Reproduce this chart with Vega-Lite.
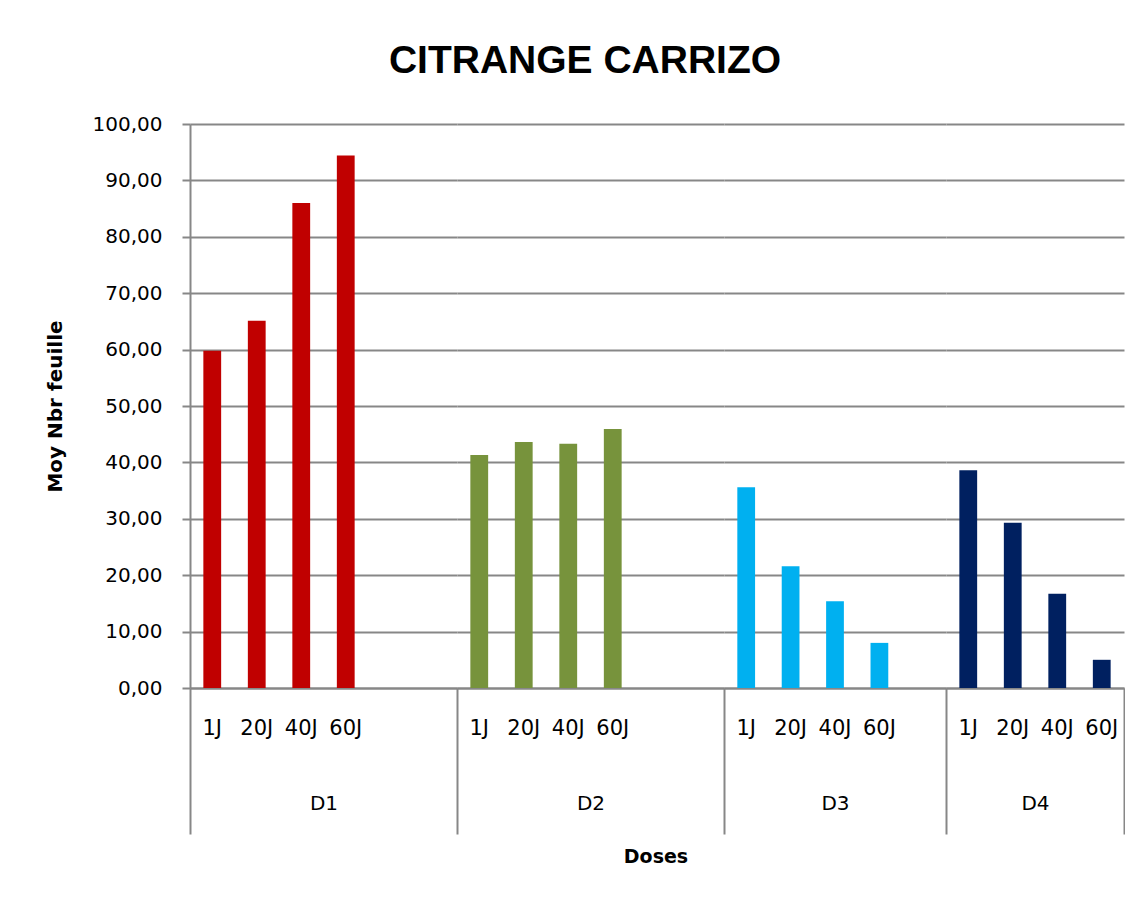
{
  "$schema": "https://vega.github.io/schema/vega-lite/v6.json",
  "padding": {"left": 45, "top": 42, "right": 0, "bottom": 0},
  "background": "white",
  "title": {"text": "CITRANGE CARRIZO", "font": "Liberation Sans", "fontSize": 39, "fontWeight": "bold", "color": "#000000", "anchor": "middle", "offset": 33},
  "data": {"values": [
    {"dose": "D1", "jour": "1J", "valeur": 59.8},
    {"dose": "D1", "jour": "20J", "valeur": 65.1},
    {"dose": "D1", "jour": "40J", "valeur": 86.0},
    {"dose": "D1", "jour": "60J", "valeur": 94.4},
    {"dose": "D2", "jour": "1J", "valeur": 41.3},
    {"dose": "D2", "jour": "20J", "valeur": 43.6},
    {"dose": "D2", "jour": "40J", "valeur": 43.3},
    {"dose": "D2", "jour": "60J", "valeur": 45.9},
    {"dose": "D3", "jour": "1J", "valeur": 35.6},
    {"dose": "D3", "jour": "20J", "valeur": 21.6},
    {"dose": "D3", "jour": "40J", "valeur": 15.4},
    {"dose": "D3", "jour": "60J", "valeur": 8.0},
    {"dose": "D4", "jour": "1J", "valeur": 38.6},
    {"dose": "D4", "jour": "20J", "valeur": 29.3},
    {"dose": "D4", "jour": "40J", "valeur": 16.7},
    {"dose": "D4", "jour": "60J", "valeur": 5.0}
  ]},
  "vconcat": [
    {
      "title": {"text": "Doses", "orient": "bottom", "font": "DejaVu Sans", "fontSize": 19, "fontWeight": "bold", "color": "#000000", "anchor": "middle", "offset": 13, "dx": 71},
      "spacing": 0,
      "bounds": "flush",
      "hconcat": [
        {
          "width": 267, "height": 564,
          "transform": [{"filter": "datum.dose === 'D1'"}],
          "layer": [
            {
              "mark": {"type": "bar", "width": {"band": 0.4}},
              "encoding": {
                "x": {"field": "jour", "type": "nominal", "sort": null,
                  "scale": {"domain": ["1J", "20J", "40J", "60J", " ", "  "], "paddingInner": 0, "paddingOuter": 0},
                  "axis": {"title": "D1", "orient": "bottom", "ticks": false, "tickSize": 0, "labelAngle": 0, "labelPadding": 29, "titlePadding": 55, "grid": false}},
                "y": {"field": "valeur", "type": "quantitative",
                  "scale": {"domain": [0, 100], "nice": false},
                  "axis": {"values": [0, 10, 20, 30, 40, 50, 60, 70, 80, 90, 100], "labelExpr": "replace(format(datum.value, '.2f'), '.', ',')", "title": "Moy Nbr feuille", "titleFont": "DejaVu Sans", "titleFontSize": 20, "titleFontWeight": "bold", "titlePadding": 27, "labelFontSize": 20, "labelPadding": 20, "ticks": true, "tickSize": 8, "domain": true, "grid": true}},
                "color": {"field": "dose", "type": "nominal", "scale": {"domain": ["D1", "D2", "D3", "D4"], "range": ["#C00000", "#77933C", "#00B0F0", "#002060"]}, "legend": null}
              }
            },
            {
              "mark": {"type": "bar", "opacity": 0},
              "encoding": {
                "x": {"field": "jour", "type": "nominal", "sort": null,
                  "axis": {"values": ["1J"], "bandPosition": 0, "orient": "bottom", "labels": false, "domain": false, "ticks": true, "tickSize": 146, "title": null, "grid": false}},
                "y": {"field": "valeur", "type": "quantitative"}
              }
            }
          ],
          "resolve": {"axis": {"x": "independent"}}
        },
        {
          "width": 267, "height": 564,
          "transform": [{"filter": "datum.dose === 'D2'"}],
          "layer": [
            {
              "mark": {"type": "bar", "width": {"band": 0.4}},
              "encoding": {
                "x": {"field": "jour", "type": "nominal", "sort": null,
                  "scale": {"domain": ["1J", "20J", "40J", "60J", " ", "  "], "paddingInner": 0, "paddingOuter": 0},
                  "axis": {"title": "D2", "orient": "bottom", "ticks": false, "tickSize": 0, "labelAngle": 0, "labelPadding": 29, "titlePadding": 55, "grid": false}},
                "y": {"field": "valeur", "type": "quantitative",
                  "scale": {"domain": [0, 100], "nice": false},
                  "axis": {"values": [0, 10, 20, 30, 40, 50, 60, 70, 80, 90, 100], "labels": false, "ticks": false, "domain": false, "title": null, "grid": true}},
                "color": {"field": "dose", "type": "nominal", "scale": {"domain": ["D1", "D2", "D3", "D4"], "range": ["#C00000", "#77933C", "#00B0F0", "#002060"]}, "legend": null}
              }
            },
            {
              "mark": {"type": "bar", "opacity": 0},
              "encoding": {
                "x": {"field": "jour", "type": "nominal", "sort": null,
                  "axis": {"values": ["1J"], "bandPosition": 0, "orient": "bottom", "labels": false, "domain": false, "ticks": true, "tickSize": 146, "title": null, "grid": false}},
                "y": {"field": "valeur", "type": "quantitative"}
              }
            }
          ],
          "resolve": {"axis": {"x": "independent"}}
        },
        {
          "width": 222, "height": 564,
          "transform": [{"filter": "datum.dose === 'D3'"}],
          "layer": [
            {
              "mark": {"type": "bar", "width": {"band": 0.4}},
              "encoding": {
                "x": {"field": "jour", "type": "nominal", "sort": null,
                  "scale": {"domain": ["1J", "20J", "40J", "60J", " "], "paddingInner": 0, "paddingOuter": 0},
                  "axis": {"title": "D3", "orient": "bottom", "ticks": false, "tickSize": 0, "labelAngle": 0, "labelPadding": 29, "titlePadding": 55, "grid": false}},
                "y": {"field": "valeur", "type": "quantitative",
                  "scale": {"domain": [0, 100], "nice": false},
                  "axis": {"values": [0, 10, 20, 30, 40, 50, 60, 70, 80, 90, 100], "labels": false, "ticks": false, "domain": false, "title": null, "grid": true}},
                "color": {"field": "dose", "type": "nominal", "scale": {"domain": ["D1", "D2", "D3", "D4"], "range": ["#C00000", "#77933C", "#00B0F0", "#002060"]}, "legend": null}
              }
            },
            {
              "mark": {"type": "bar", "opacity": 0},
              "encoding": {
                "x": {"field": "jour", "type": "nominal", "sort": null,
                  "axis": {"values": ["1J"], "bandPosition": 0, "orient": "bottom", "labels": false, "domain": false, "ticks": true, "tickSize": 146, "title": null, "grid": false}},
                "y": {"field": "valeur", "type": "quantitative"}
              }
            }
          ],
          "resolve": {"axis": {"x": "independent"}}
        },
        {
          "width": 178, "height": 564,
          "transform": [{"filter": "datum.dose === 'D4'"}],
          "layer": [
            {
              "mark": {"type": "bar", "width": {"band": 0.4}},
              "encoding": {
                "x": {"field": "jour", "type": "nominal", "sort": null,
                  "scale": {"domain": ["1J", "20J", "40J", "60J"], "paddingInner": 0, "paddingOuter": 0},
                  "axis": {"title": "D4", "orient": "bottom", "ticks": false, "tickSize": 0, "labelAngle": 0, "labelPadding": 29, "titlePadding": 55, "grid": false}},
                "y": {"field": "valeur", "type": "quantitative",
                  "scale": {"domain": [0, 100], "nice": false},
                  "axis": {"values": [0, 10, 20, 30, 40, 50, 60, 70, 80, 90, 100], "labels": false, "ticks": false, "domain": false, "title": null, "grid": true}},
                "color": {"field": "dose", "type": "nominal", "scale": {"domain": ["D1", "D2", "D3", "D4"], "range": ["#C00000", "#77933C", "#00B0F0", "#002060"]}, "legend": null}
              }
            },
            {
              "mark": {"type": "bar", "opacity": 0},
              "encoding": {
                "x": {"field": "jour", "type": "nominal", "sort": null,
                  "axis": {"values": ["1J"], "bandPosition": 0, "orient": "bottom", "labels": false, "domain": false, "ticks": true, "tickSize": 146, "title": null, "grid": false}},
                "y": {"field": "valeur", "type": "quantitative"}
              }
            },
            {
              "mark": {"type": "bar", "opacity": 0},
              "encoding": {
                "x": {"field": "jour", "type": "nominal", "sort": null,
                  "axis": {"values": ["60J"], "bandPosition": 1, "orient": "bottom", "labels": false, "domain": false, "ticks": true, "tickSize": 146, "title": null, "grid": false}},
                "y": {"field": "valeur", "type": "quantitative"}
              }
            }
          ],
          "resolve": {"axis": {"x": "independent"}}
        }
      ]
    }
  ],
  "config": {
    "view": {"stroke": null},
    "axis": {
      "labelFont": "DejaVu Sans", "labelFontSize": 21, "labelColor": "#000000",
      "titleFont": "DejaVu Sans", "titleFontSize": 20, "titleFontWeight": "normal", "titleColor": "#000000",
      "domainColor": "#878787", "domainWidth": 2,
      "tickColor": "#878787", "tickWidth": 2,
      "gridColor": "#878787", "gridWidth": 2
    }
  }
}
